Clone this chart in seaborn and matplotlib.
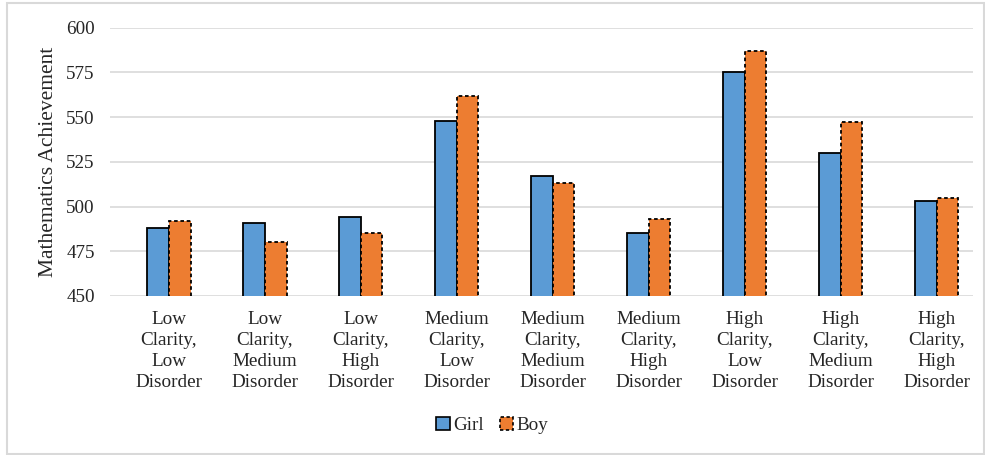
import pandas as pd
import matplotlib.pyplot as plt
import seaborn as sns
from matplotlib.patches import Patch, Rectangle

# data
categories = ["Low\nClarity,\nLow\nDisorder", "Low\nClarity,\nMedium\nDisorder", "Low\nClarity,\nHigh\nDisorder",
              "Medium\nClarity,\nLow\nDisorder", "Medium\nClarity,\nMedium\nDisorder", "Medium\nClarity,\nHigh\nDisorder",
              "High\nClarity,\nLow\nDisorder", "High\nClarity,\nMedium\nDisorder", "High\nClarity,\nHigh\nDisorder"]
girl = [488, 491, 494, 548, 517, 485, 575, 530, 503]
boy = [492, 480, 485, 562, 513, 493, 587, 547, 505]

df = pd.DataFrame({
    "Condition": categories * 2,
    "Score": girl + boy,
    "Gender": ["Girl"] * len(girl) + ["Boy"] * len(boy),
})

sns.set_style("white")
plt.rcParams['font.family'] = ['Liberation Serif', 'DejaVu Serif']

colors = {"Girl": "#5B9BD5", "Boy": "#ED7D31"}
fig = plt.figure(figsize=(9.85, 4.55), dpi=100)
ax = fig.add_axes([110 / 985, 1 - 296 / 455, 863 / 985, 268.5 / 455])

sns.barplot(data=df, x="Condition", y="Score", hue="Gender", palette=colors, saturation=1,
            width=0.45, ax=ax, legend=False, edgecolor="black", linewidth=1.3)

# girl bars solid outline, boy bars dashed
n = len(categories)
for i, p in enumerate(ax.patches[:2 * n]):
    if i >= n:
        p.set_linestyle((0, (2, 1.5)))
    p.set_zorder(3)

ax.set_xlim(-0.615, 8.38)
ax.set_ylim(450, 600)
ax.set_yticks(range(450, 601, 25))
ax.yaxis.grid(True, color="#d9d9d9", linewidth=1.2, zorder=0)
ax.set_axisbelow(True)
for s in ax.spines.values():
    s.set_visible(False)
ax.tick_params(axis="both", length=0, labelsize=13.8)
ax.tick_params(axis="y", pad=11)
ax.tick_params(axis="x", pad=11)
plt.setp(ax.get_xticklabels(), linespacing=1.3)
ax.set_xlabel("")
ax.set_ylabel("Mathematics Achievement", fontsize=15.5, labelpad=6)

handles = [Patch(facecolor=colors["Girl"], edgecolor="black", linewidth=1.2, label="Girl"),
           Patch(facecolor=colors["Boy"], edgecolor="black", linewidth=1.2, linestyle=(0, (2, 1.5)), label="Boy")]
fig.legend(handles=handles, loc="center", bbox_to_anchor=(0.5, 0.065), ncol=2, frameon=False,
           fontsize=13.8, handlelength=0.7, handleheight=0.7, handletextpad=0.2, columnspacing=0.8)

# outer frame around the chart
fig.patches.append(Rectangle((7 / 985, 1 / 455), 977 / 985, 451 / 455, transform=fig.transFigure,
                             fill=False, edgecolor="#d9d9d9", linewidth=1.5))

fig.savefig("out.png", dpi=100, facecolor="white")
